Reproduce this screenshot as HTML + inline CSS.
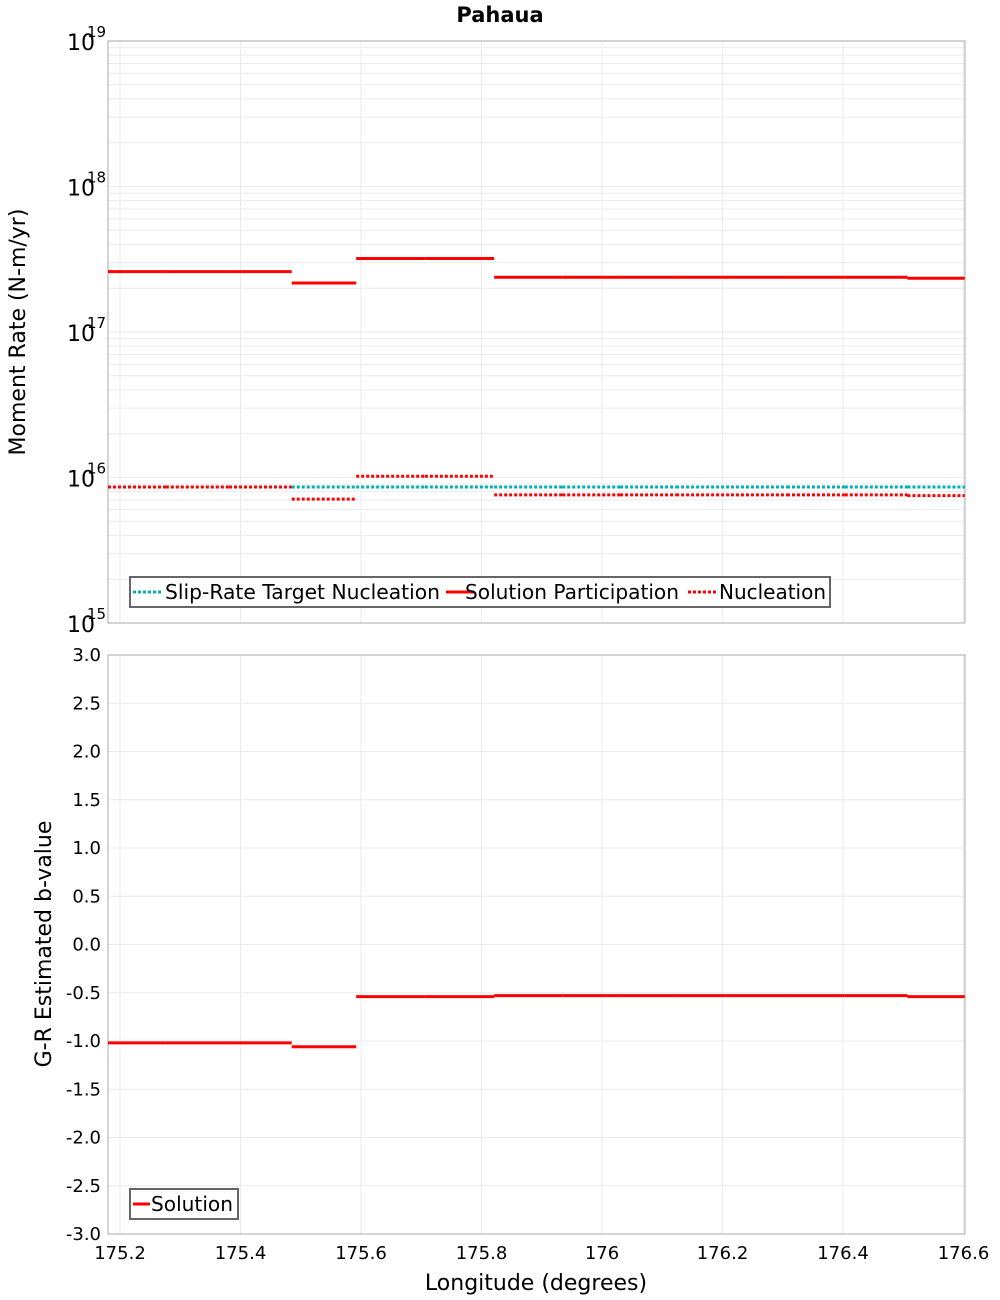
<!DOCTYPE html>
<html><head><meta charset="utf-8"><style>body{margin:0;background:#fff}svg{display:block;font-family:"DejaVu Sans","Liberation Sans",sans-serif}</style></head>
<body>
<svg id="c" width="1000" height="1300" xmlns="http://www.w3.org/2000/svg"></svg>
<script>
const bounds=[175.180,175.276,175.381,175.485,175.592,175.706,175.821,175.934,176.030,176.123,176.214,176.307,176.403,176.507,176.602];
const solutionPart=[2.6e17,2.6e17,2.6e17,2.17e17,3.2e17,3.2e17,2.38e17,2.38e17,2.38e17,2.38e17,2.38e17,2.38e17,2.38e17,2.34e17];
const targetNucl=[8.6e15,8.6e15,8.6e15,8.6e15,8.6e15,8.6e15,8.6e15,8.6e15,8.6e15,8.6e15,8.6e15,8.6e15,8.6e15,8.6e15];
const nucleation=[8.6e15,8.6e15,8.6e15,7.1e15,1.02e16,1.02e16,7.6e15,7.6e15,7.6e15,7.6e15,7.6e15,7.6e15,7.6e15,7.5e15];
const bValues=[-1.02,-1.02,-1.02,-1.06,-0.54,-0.54,-0.53,-0.53,-0.53,-0.53,-0.53,-0.53,-0.53,-0.54];
const xTicks=[175.2,175.4,175.6,175.8,176,176.2,176.4,176.6];
const xTickLabels=["175.2","175.4","175.6","175.8","176","176.2","176.4","176.6"];
const logTicks=[15,16,17,18,19];
const bTicks=[3,2.5,2,1.5,1,0.5,0,-0.5,-1,-1.5,-2,-2.5,-3];

const svg=document.getElementById('c');const NS='http://www.w3.org/2000/svg';
function mk(t,a,p){const e=document.createElementNS(NS,t);for(const k in a)e.setAttribute(k,a[k]);(p||svg).appendChild(e);return e;}
const L=108,R=965,T1=41,B1=623,T2=655,B2=1234;
const xs=v=>120+(v-175.2)/0.2*120.5;
const ys1=v=>T1+(19-Math.log10(v))*(B1-T1)/4;
const ys2=v=>T2+(3-v)*(B2-T2)/6;

let t=mk('text',{x:500,y:22,'text-anchor':'middle','font-size':21,'font-weight':'bold'});t.textContent='Pahaua';



const g=mk('g',{stroke:'#ebebeb','stroke-width':1});


for(let d=15;d<19;d++)for(let m=1;m<10;m++){const y=ys1(m*Math.pow(10,d));mk('line',{x1:L,x2:R,y1:y,y2:y},g);}
bTicks.forEach(v=>{const y=ys2(v);mk('line',{x1:L,x2:R,y1:y,y2:y},g);});
xTicks.forEach(v=>{const x=xs(v);mk('line',{x1:x,x2:x,y1:T1,y2:B1},g);mk('line',{x1:x,x2:x,y1:T2,y2:B2},g);});

let f=mk('rect',{x:L,y:T1,width:R-L,height:B1-T1,fill:'none',stroke:'#aaa'});


f=mk('rect',{x:L,y:T2,width:R-L,height:B2-T2,fill:'none',stroke:'#aaa'});



logTicks.forEach(d=>{const y=ys1(Math.pow(10,d));
 const tt=mk('text',{x:95,y:y+9,'text-anchor':'end','font-size':22});tt.textContent='10';
 
 
 const s=mk('text',{x:87,y:y-4,'font-size':15});s.textContent=String(d);
 
 });
bTicks.forEach(v=>{const tt=mk('text',{x:101,y:ys2(v)+6,'text-anchor':'end','font-size':18});tt.textContent=v.toFixed(1);
 
 });
xTicks.forEach((v,i)=>{const tt=mk('text',{x:xs(v),y:1259,'text-anchor':'middle','font-size':18});tt.textContent=xTickLabels[i];
 
 });

t=mk('text',{x:536,y:1290,'text-anchor':'middle','font-size':22});t.textContent='Longitude (degrees)';


t=mk('text',{x:0,y:0,'text-anchor':'middle','font-size':22,transform:'translate(25,332) rotate(-90)'});t.textContent='Moment Rate (N-m/yr)';


t=mk('text',{x:0,y:0,'text-anchor':'middle','font-size':22,transform:'translate(51,944) rotate(-90)'});t.textContent='G-R Estimated b-value';



function series(vals,ys,color,dash,name){const gg=mk('g',{stroke:color,'stroke-width':3,'stroke-dasharray':dash||'none'});
 
 
 vals.forEach((v,i)=>{const l=mk('line',{x1:xs(bounds[i]),x2:xs(bounds[i+1]),y1:ys(v),y2:ys(v)},gg);
  
  });}
series(targetNucl,ys1,'#00b0b0','3 2','slip-rate-target-nucleation');
series(solutionPart,ys1,'#ff0000',null,'solution-participation');
series(nucleation,ys1,'#ff0000','3 2','nucleation');
series(bValues,ys2,'#ff0000',null,'solution-b-value');

const lg=mk('g',{});


mk('rect',{x:130,y:577,width:700,height:30,fill:'#fff',stroke:'#666','stroke-width':2},lg);
const items=[[133,'#00b0b0','3 2','Slip-Rate Target Nucleation',165,275],[446,'#ff0000','none','Solution Participation',465,214],[688,'#ff0000','3 2','Nucleation',719,107]];
items.forEach(it=>{mk('line',{x1:it[0],x2:it[0]+28,y1:592,y2:592,stroke:it[1],'stroke-width':3,'stroke-dasharray':it[2]},lg);
 const tt=mk('text',{x:it[4],y:599,'font-size':20,textLength:it[5],lengthAdjust:'spacingAndGlyphs'},lg);tt.textContent=it[3];
 
 });
const lg2=mk('g',{});


mk('rect',{x:130,y:1189,width:108,height:30,fill:'#fff',stroke:'#666','stroke-width':2},lg2);
mk('line',{x1:133,x2:150,y1:1204,y2:1204,stroke:'#ff0000','stroke-width':3},lg2);
t=mk('text',{x:151,y:1211,'font-size':20,textLength:82,lengthAdjust:'spacingAndGlyphs'},lg2);t.textContent='Solution';


</script>
</body></html>
